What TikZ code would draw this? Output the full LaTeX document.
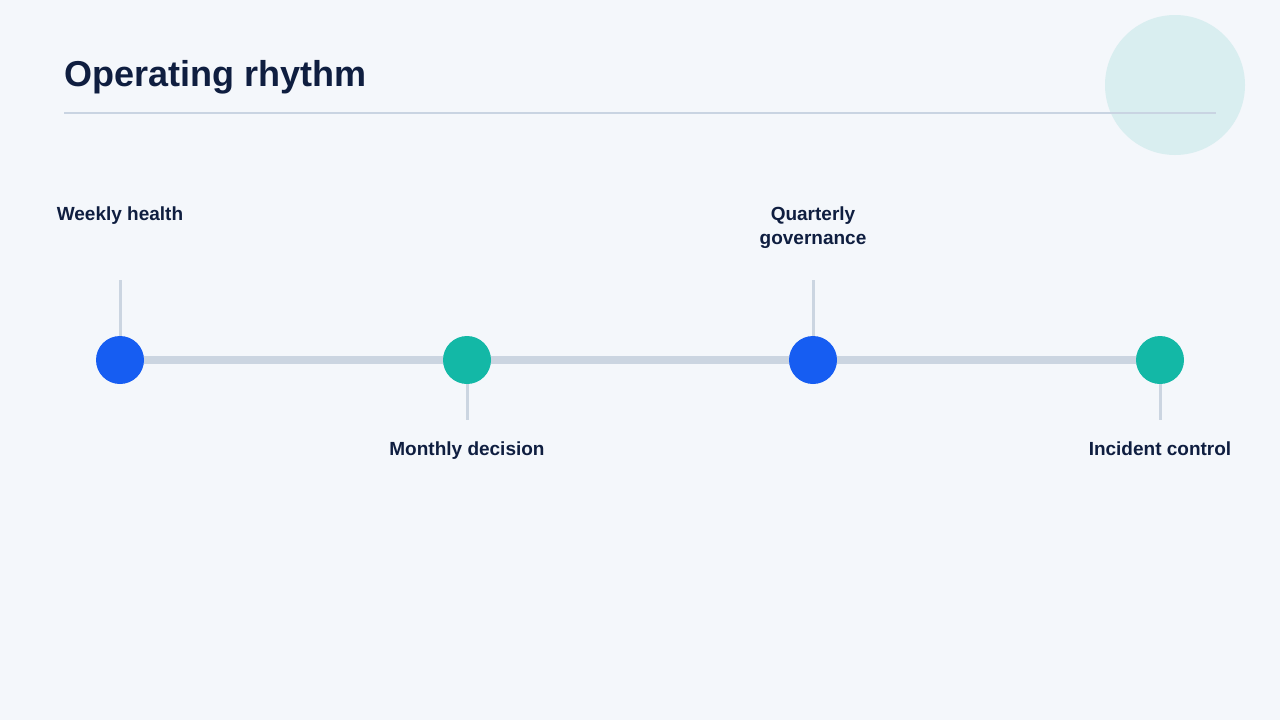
\documentclass[tikz,border=0pt]{standalone}
\usepackage{fontspec}
\setmainfont{Liberation Sans}
\usetikzlibrary{positioning}
\definecolor{bgcol}{HTML}{F4F7FB}
\definecolor{navy}{HTML}{0F1E40}
\definecolor{rulecol}{HTML}{C9D4E2}
\definecolor{trackcol}{HTML}{CBD5E1}
\definecolor{decocol}{HTML}{D9EEF0}
\definecolor{dotblue}{HTML}{165DF2}
\definecolor{dotteal}{HTML}{13B8A6}
\tikzstyle{dot}=[circle, minimum size=48pt, inner sep=0pt]
\tikzstyle{tick}=[draw=trackcol, line width=3pt]
\tikzstyle{lbl}=[font=\bfseries\fontsize{19}{24}\selectfont, text=navy, align=center]

\begin{document}
\begin{tikzpicture}[x=1pt, y=-1pt]
\fill[bgcol] (0,0) rectangle (1280,720);
\useasboundingbox (0,0) rectangle (1280,720);

\fill[decocol] (1175,85) circle (70);

\node[anchor=base west, inner sep=0pt, font=\bfseries\fontsize{36}{42}\selectfont, text=navy] (title) at (64,86) {Operating rhythm};
\coordinate (rulel) at (64,113);
\coordinate (ruler) at (1216,113);
\draw[rulecol, line width=2pt] (rulel) -- (ruler);

\coordinate (p1) at (120,360);
\coordinate (p2) at (467,360);
\coordinate (p3) at (813,360);
\coordinate (p4) at (1160,360);
\draw[trackcol, line width=8pt] (p1) -- (p4);

\node[dot, fill=dotblue] (weekly) at (p1) {};
\node[dot, fill=dotteal] (monthly) at (p2) {};
\node[dot, fill=dotblue] (quarterly) at (p3) {};
\node[dot, fill=dotteal] (incident) at (p4) {};

\coordinate (t1) at (120,280);
\coordinate (t2) at (467,420);
\coordinate (t3) at (813,280);
\coordinate (t4) at (1160,420);
\draw[tick] (t1) -- (weekly.north);
\draw[tick] (monthly.south) -- (t2);
\draw[tick] (t3) -- (quarterly.north);
\draw[tick] (incident.south) -- (t4);

\node[lbl, anchor=base] (lweekly) at (120,220) {Weekly health};
\node[lbl, anchor=base] (lmonthly) at (467,455) {Monthly decision};
\node[lbl, anchor=base] (lquarterly) at (813,244) {Quarterly\\governance};
\node[lbl, anchor=base] (lincident) at (1160,455) {Incident control};

\end{tikzpicture}
\end{document}
